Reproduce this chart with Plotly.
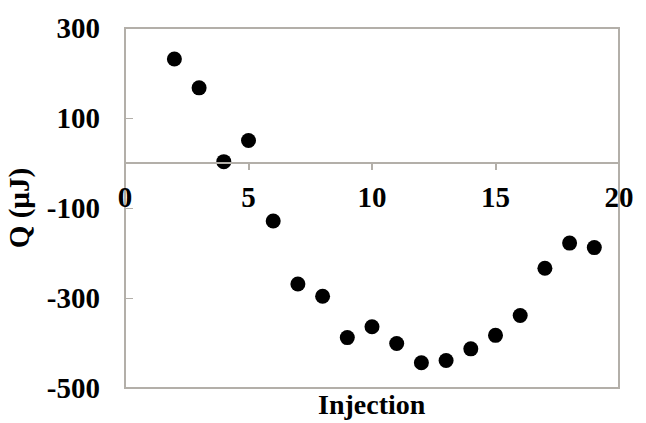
import plotly.graph_objects as go

injection = [2, 3, 4, 5, 6, 7, 8, 9, 10, 11, 12, 13, 14, 15, 16, 17, 18, 19]
q_uj = [231, 167, 3, 50, -129, -269, -296, -388, -364, -401, -444, -439, -413, -383, -339, -234, -178, -188]

x_ticks = [0, 5, 10, 15, 20]
y_ticks = [300, 100, -100, -300, -500]

FONT = "Liberation Serif"
GRID = "#b3afa9"
FS = 29

fig = go.Figure()
fig.add_trace(go.Scatter(
    x=injection, y=q_uj, mode="markers",
    marker=dict(color="black", size=15, line=dict(width=0)),
    showlegend=False,
))

fig.update_layout(
    width=646, height=423,
    margin=dict(l=125, r=18, t=26, b=35),
    paper_bgcolor="white", plot_bgcolor="white",
    font=dict(family=FONT, size=FS, color="black"),
    xaxis=dict(
        range=[0, 20], tickvals=x_ticks, ticktext=[str(v) for v in x_ticks],
        anchor="free", position=0.625,
        showline=True, linecolor=GRID, linewidth=2,
        ticks="outside", ticklen=6, tickcolor=GRID, tickwidth=2,
        ticklabelstandoff=2,
        showgrid=False, zeroline=False,
        tickfont=dict(family=FONT, size=FS, color="black", weight="bold"),
    ),
    yaxis=dict(
        range=[-500, 300], tickvals=y_ticks, ticktext=[str(v) for v in y_ticks],
        showline=False, ticks="inside", ticklen=8, tickcolor=GRID, tickwidth=1,
        ticklabelstandoff=24,
        showgrid=False, zeroline=False,
        tickfont=dict(family=FONT, size=FS, color="black", weight="bold"),
        title=dict(text="Q (µJ)", standoff=8,
                   font=dict(family=FONT, size=FS, color="black", weight="bold")),
    ),
    shapes=[dict(type="rect", xref="paper", yref="paper", x0=0, x1=1, y0=0, y1=1,
                 line=dict(color=GRID, width=2), layer="below")],
    annotations=[dict(text="Injection", xref="paper", yref="paper", x=0.5, y=0,
                      yshift=1, yanchor="top", xanchor="center", showarrow=False,
                      font=dict(family=FONT, size=28, color="black", weight="bold"))],
)

fig.write_html("out.html")
